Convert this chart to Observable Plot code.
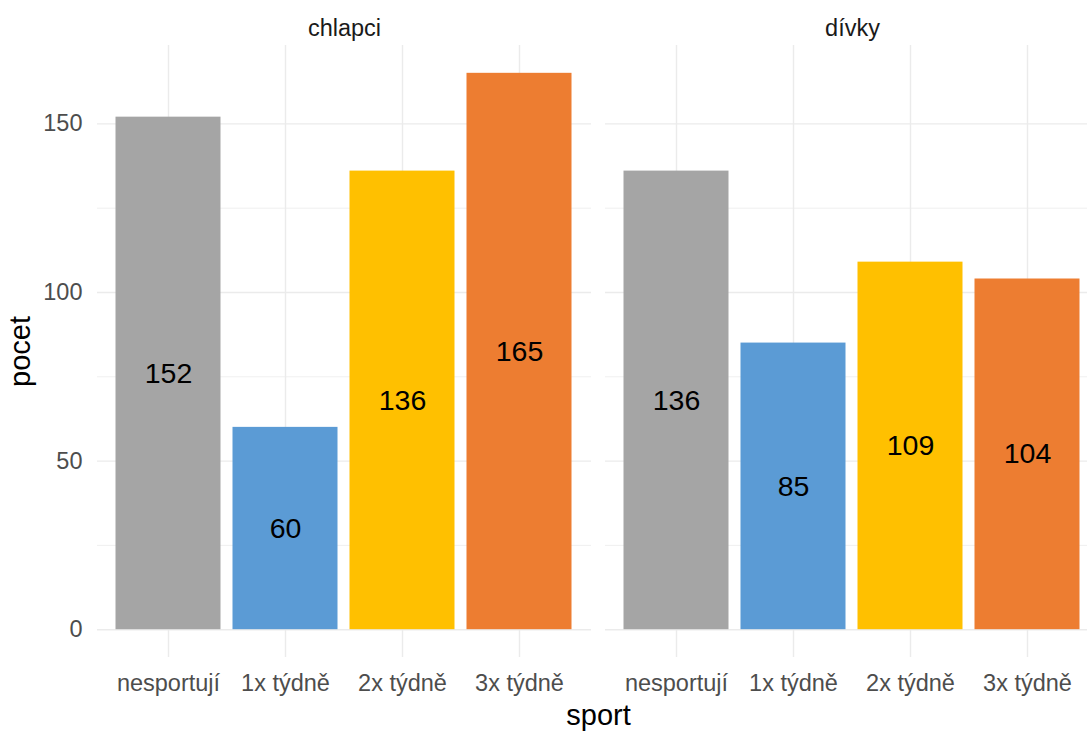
<!DOCTYPE html>
<html>
<head>
<meta charset="utf-8">
<script src="https://cdn.jsdelivr.net/npm/d3@7"></script>
<script src="https://cdn.jsdelivr.net/npm/@observablehq/plot@0.6"></script>
<style>
  html, body { margin: 0; padding: 0; background: #fff; overflow: hidden; }
  #chart svg { max-width: none !important; }
</style>
</head>
<body>
<div id="chart"></div>
<script>
const genders = ["chlapci", "dívky"];
const sports = ["nesportují", "1x týdně", "2x týdně", "3x týdně"];
const boys = [152, 60, 136, 165];
const girls = [136, 85, 109, 104];
const colors = ["#a5a5a5", "#5b9bd5", "#ffc000", "#ed7d31"];
const majorTicks = [0, 50, 100, 150];
const minorTicks = [25, 75, 125];

const data = [];
sports.forEach((s, i) => data.push({gender: genders[0], sport: s, count: boys[i]}));
sports.forEach((s, i) => data.push({gender: genders[1], sport: s, count: girls[i]}));

const chart = Plot.plot({
  width: 1099,
  height: 731,
  marginLeft: 96.5,
  marginRight: 0,
  marginTop: 45,
  marginBottom: 74,
  style: {fontFamily: "'Liberation Sans', Arial, sans-serif", background: "#fff", maxWidth: "none"},
  fx: {domain: genders, paddingInner: 14 / 508, paddingOuter: 0},
  x: {domain: sports, paddingInner: 0.1, paddingOuter: 0.15},
  y: {domain: [-8.25, 173.25]},
  color: {domain: sports, range: colors},
  marks: [
    Plot.gridY(minorTicks, {stroke: "#ebebeb", strokeOpacity: 1, strokeWidth: 0.8}),
    Plot.gridY(majorTicks, {stroke: "#ebebeb", strokeOpacity: 1, strokeWidth: 1.4}),
    Plot.gridX({stroke: "#ebebeb", strokeOpacity: 1, strokeWidth: 1.4}),
    Plot.barY(data, {fx: "gender", x: "sport", y: "count", fill: "sport"}),
    Plot.text(data, {fx: "gender", x: "sport", y: d => d.count / 2, text: "count", fontSize: 28.5, fill: "#000"}),
    Plot.axisY({ticks: majorTicks, tickSize: 0, tickPadding: 15, fontSize: 23.5, fill: "#4d4d4d", label: null}),
    Plot.axisY({ticks: [], label: "pocet", labelArrow: "none", labelAnchor: "center", labelOffset: 88, fontSize: 29, fill: "#000"}),
    Plot.axisX({tickSize: 0, tickPadding: 17, fontSize: 23.5, fill: "#4d4d4d", label: null}),
    Plot.axisFx({anchor: "top", tickSize: 0, tickPadding: 10, fontSize: 23.5, fill: "#1a1a1a", label: null}),
    Plot.axisFx({anchor: "bottom", ticks: [], label: "sport", labelArrow: "none", labelAnchor: "center", labelOffset: 67, fontSize: 29, fill: "#000"})
  ]
});
document.getElementById("chart").appendChild(chart);
</script>
</body>
</html>
